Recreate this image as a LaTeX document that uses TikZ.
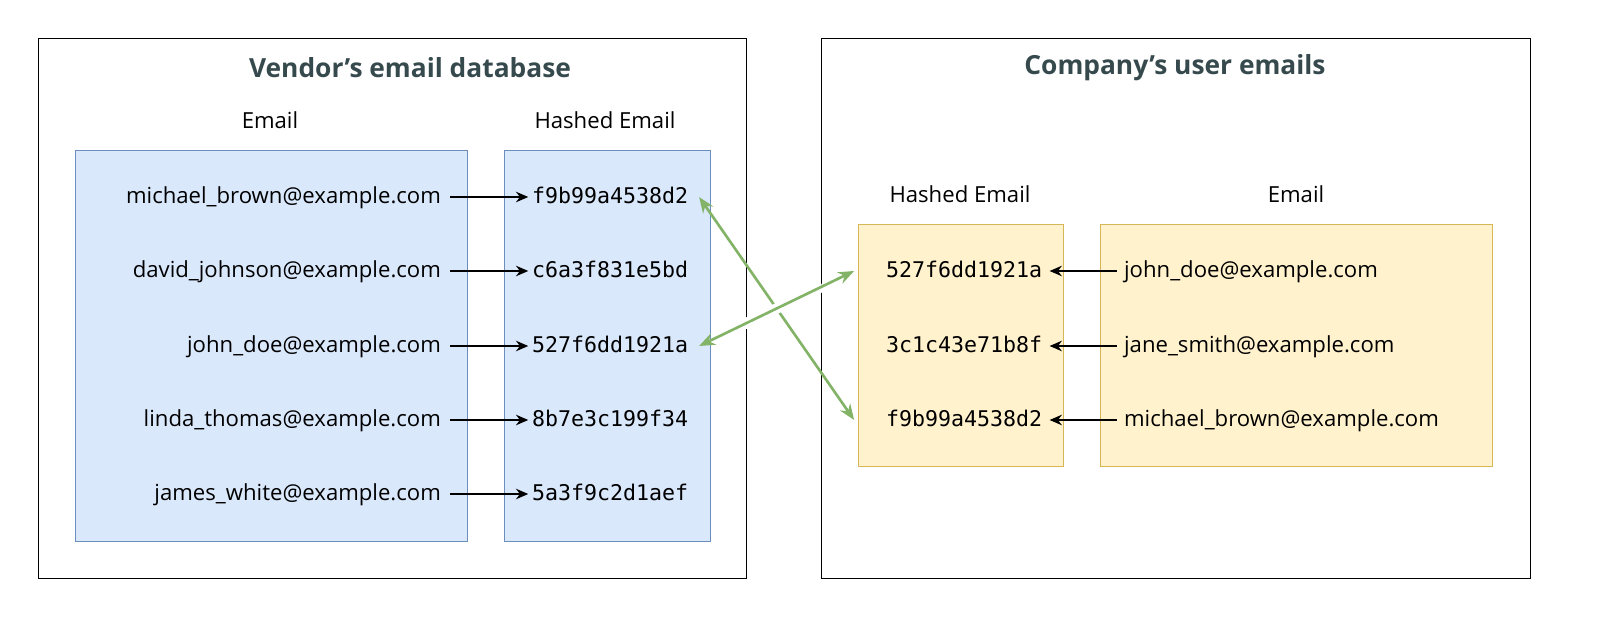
\documentclass[tikz,border=0pt]{standalone}
\usepackage{fontspec}
\setmainfont{Open Sans}
\newfontfamily\hashfont{DejaVu Sans Mono}
\usetikzlibrary{positioning,arrows.meta,calc}
\definecolor{blfill}{HTML}{DAE8FC}
\definecolor{bldraw}{HTML}{6C8EBF}
\definecolor{ylfill}{HTML}{FFF2CC}
\definecolor{yldraw}{HTML}{D6B656}
\definecolor{grarrow}{HTML}{82B366}
\definecolor{titlecol}{HTML}{364A4E}
\tikzset{
  txt/.style={inner sep=1pt,text height=1.6ex,text depth=0.2ex,font=\fontsize{12.6}{15}\selectfont},
  hash/.style={inner sep=1pt,text height=1.6ex,text depth=0.2ex,font=\hashfont\fontsize{12.3}{15}\selectfont},
  ttl/.style={font=\bfseries\fontsize{15}{18}\selectfont,text=titlecol},
  blk/.style={-{Stealth[length=7pt,width=6pt]},thick},
  grn/.style={{Stealth[length=9pt,width=7pt]}-{Stealth[length=9pt,width=7pt]},grarrow,line width=1.5pt}
}
\begin{document}
\begin{tikzpicture}[x=0.02cm,y=-0.02cm]
  % frames
  \draw (38,38) rectangle (746,578);
  \draw (821,38) rectangle (1530,578);
  \node[ttl] (vtitle) at (410,68) {Vendor's email database};
  \node[ttl] (ctitle) at (1175,68) {Company's user emails};
  % vendor columns
  \draw[fill=blfill,draw=bldraw] (75,150) rectangle (467,541);
  \draw[fill=blfill,draw=bldraw] (504,150) rectangle (710,541);
  \node[txt] (vemail) at (270,122) {Email};
  \node[txt] (vhash) at (605,122) {Hashed Email};
  \foreach \n/\y/\mail/\hsh in {1/197/michael\_brown/f9b99a4538d2,
                               2/271/david\_johnson/c6a3f831e5bd,
                               3/346/john\_doe/527f6dd1921a,
                               4/420/linda\_thomas/8b7e3c199f34,
                               5/494/james\_white/5a3f9c2d1aef} {
    \node[txt,anchor=east] (ve\n) at (443,\y) {\mail@example.com};
    \node[hash,anchor=west] (vh\n) at (530,\y) {\hsh};
    \draw[blk] ([xshift=4pt]ve\n.east) -- ([xshift=-1pt]vh\n.west);
  }
  % company columns
  \draw[fill=ylfill,draw=yldraw] (858,224) rectangle (1063,466);
  \draw[fill=ylfill,draw=yldraw] (1100,224) rectangle (1492,466);
  \node[txt] (chash) at (960,196) {Hashed Email};
  \node[txt] (cemail) at (1296,196) {Email};
  \foreach \n/\y/\mail/\hsh in {1/271/john\_doe/527f6dd1921a,
                               2/346/jane\_smith/3c1c43e71b8f,
                               3/420/michael\_brown/f9b99a4538d2} {
    \node[hash,anchor=west] (ch\n) at (884,\y) {\hsh};
    \node[txt,anchor=west] (ce\n) at (1122,\y) {\mail@example.com};
    \draw[blk] ([xshift=-3pt]ce\n.west) -- ([xshift=3pt]ch\n.east);
  }
  % matches
  \draw[grn] ([xshift=5pt]vh1.east) -- ([xshift=-17pt]ch3.west);
  \draw[white,line width=6pt,shorten <=20pt,shorten >=20pt] ([xshift=-17pt]ch1.west) -- ([xshift=5pt]vh3.east);
  \draw[grn] ([xshift=-17pt]ch1.west) -- ([xshift=5pt]vh3.east);
  \pgfresetboundingbox
  \useasboundingbox (0,0) rectangle (1600,631);
\end{tikzpicture}
\end{document}
